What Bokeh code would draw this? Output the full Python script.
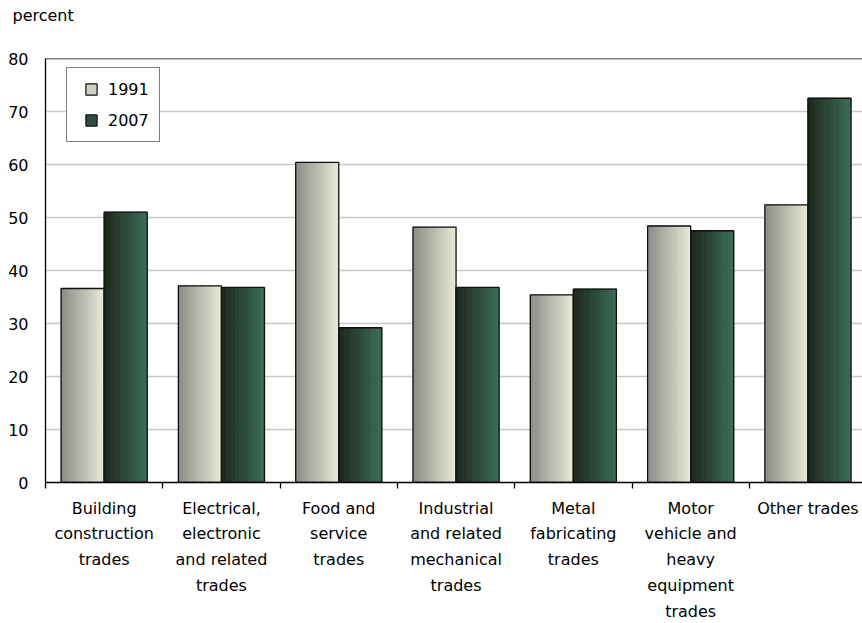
import numpy as np
from bokeh.plotting import figure
from bokeh.layouts import column
from bokeh.models import Range1d, FixedTicker, Legend, LegendItem, Span, ColumnDataSource
from bokeh.embed import file_html
from bokeh.resources import INLINE

# Share of apprentices (percent) by trade group, 1991 and 2007
categories = [
    "Building\nconstruction\ntrades",
    "Electrical,\nelectronic\nand related\ntrades",
    "Food and\nservice\ntrades",
    "Industrial\nand related\nmechanical\ntrades",
    "Metal\nfabricating\ntrades",
    "Motor\nvehicle and\nheavy\nequipment\ntrades",
    "Other trades",
]
values_1991 = [36.6, 37.1, 60.4, 48.2, 35.4, 48.4, 52.4]
values_2007 = [51.0, 36.8, 29.2, 36.8, 36.5, 47.5, 72.5]
series_names = ["1991", "2007"]
y_ticks = [0, 10, 20, 30, 40, 50, 60, 70, 80]
unit_label = "percent"

FONT = "DejaVu Sans"
n_cat = len(categories)
centers = np.arange(n_cat) + 0.5
bar_w = 0.367
n_strips = 24

# narrow header strip whose title carries the unit label
HEAD_H = 32
head = figure(width=862, height=HEAD_H, x_range=Range1d(0, 1), y_range=Range1d(0, 1),
              output_backend="svg", toolbar_location=None,
              min_border_left=45, min_border_right=0, min_border_top=0, min_border_bottom=0)
head.axis.visible = False
head.grid.grid_line_color = None
head.outline_line_color = None
head.title.text = unit_label
head.title.align = "left"
head.title.offset = -33
head.title.standoff = 7
head.title.text_font = FONT
head.title.text_font_size = "16px"
head.title.text_font_style = "normal"
head.title.text_color = "#000000"

p = figure(
    width=862, height=623 - HEAD_H,
    x_range=Range1d(0, 817 / 117.3), y_range=Range1d(0, 80),
    output_backend="svg", toolbar_location=None,
    min_border_left=45, min_border_right=0, min_border_top=58 - HEAD_H, min_border_bottom=0,
)
p.outline_line_color = None
p.background_fill_color = "white"
p.border_fill_color = "white"

p.xgrid.grid_line_color = None
p.ygrid.grid_line_color = "#c8c8c8"
p.ygrid.grid_line_width = 1.5
p.ygrid.ticker = FixedTicker(ticks=y_ticks)


def lerp(c0, c1, t):
    return "#%02x%02x%02x" % tuple(int(round(a + (b - a) * t)) for a, b in zip(c0, c1))


def gradient_bars(values, side, c0, c1, swatch_color):
    mids = centers + side * bar_w / 2
    # legend swatch renderer (kept hidden on the plot itself)
    swatch = p.scatter(x=mids, y=values, marker="square", size=11,
                       fill_color=swatch_color, line_color="#111111", line_width=1.2,
                       visible=False)
    xs, tops, colors = [], [], []
    sw = bar_w / n_strips
    for k in range(n_strips):
        t = (k + 0.5) / n_strips
        col = lerp(c0, c1, t)
        for c, v in zip(centers, values):
            left = c - bar_w if side < 0 else c
            xs.append(left + (k + 0.5) * sw)
            tops.append(v)
            colors.append(col)
    src = ColumnDataSource(dict(x=xs, top=tops, color=colors))
    p.vbar(x="x", top="top", width=sw, source=src,
           fill_color="color", line_color="color", line_width=0.8)
    p.vbar(x=mids, top=values, width=bar_w,
           fill_color=None, line_color="#111111", line_width=1.3)
    return swatch


sw1991 = gradient_bars(values_1991, -1, (138, 138, 134), (230, 234, 214), "#cfd2c0")
sw2007 = gradient_bars(values_2007, +1, (26, 38, 26), (60, 108, 86), "#2f4d3c")

legend = Legend(
    items=[LegendItem(label=series_names[0], renderers=[sw1991]),
           LegendItem(label=series_names[1], renderers=[sw2007])],
    location=(21, 340),
    orientation="vertical",
    padding=7, spacing=3,
    glyph_width=34, glyph_height=28,
    label_standoff=0, label_width=44, label_height=28,
    label_text_font=FONT, label_text_font_size="16px", label_text_color="#000000",
    border_line_color="#000000", border_line_width=1,
    background_fill_color="white", background_fill_alpha=1.0,
    inactive_fill_alpha=0.0,
)
p.add_layout(legend)

# top border of the plotting area
p.add_layout(Span(location=80, dimension="width", line_color="#000000", line_width=1.5))

# y axis
p.yaxis.ticker = FixedTicker(ticks=y_ticks)
p.yaxis.axis_line_color = "#000000"
p.yaxis.axis_line_width = 1.3
p.yaxis.major_tick_out = 0
p.yaxis.major_tick_in = 0
p.yaxis.minor_tick_line_color = None
p.yaxis.major_label_standoff = 17
p.yaxis.major_label_text_font = FONT
p.yaxis.major_label_text_font_size = "16px"
p.yaxis.major_label_text_color = "#000000"

# x axis: labels at group centers, tick marks between groups
p.xaxis.ticker = FixedTicker(ticks=list(centers), minor_ticks=list(range(n_cat + 1)))
p.xaxis.major_label_overrides = {float(c): lab for c, lab in zip(centers, categories)}
p.xaxis.axis_line_color = "#000000"
p.xaxis.axis_line_width = 1.3
p.xaxis.major_tick_out = 0
p.xaxis.major_tick_in = 0
p.xaxis.minor_tick_out = 6
p.xaxis.minor_tick_in = 0
p.xaxis.minor_tick_line_color = "#000000"
p.xaxis.minor_tick_line_width = 1.3
p.xaxis.major_label_standoff = 10
p.xaxis.major_label_text_font = FONT
p.xaxis.major_label_text_font_size = "16px"
p.xaxis.major_label_text_line_height = 1.36
p.xaxis.major_label_text_color = "#000000"

open("out.html", "w").write(file_html(column(head, p, spacing=0), INLINE))
